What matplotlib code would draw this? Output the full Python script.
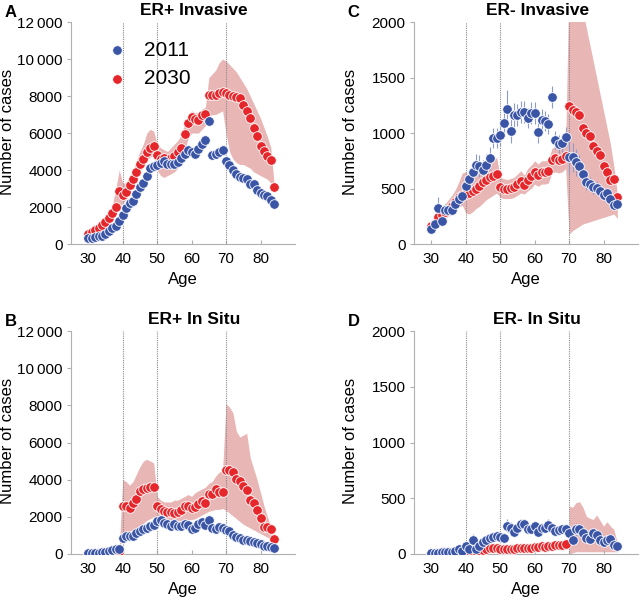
import numpy as np
import matplotlib
matplotlib.use("Agg")
import matplotlib.pyplot as plt

plt.rcParams["font.family"] = ["Liberation Sans", "DejaVu Sans"]

ages = np.arange(30, 85)
nan = np.nan

# ER+ invasive
a_2011 = [300, 330, 380, 420, 450, 550, 700, 850, 1000, 1250,
          1550, 1950, 2200, 2300, 2700, 3100, 3300, 3700, 4100, 4200,
          4250, 4400, 4500, 4300, 4350, 4300, 4450, 4650, 4850, 5100,
          4950, 4850, 5150, 5400, 5600, 6650, 4800, 4850, 4950, 5100,
          4500, 4250, 4000, 3800, 3650, 3550, 3500, 3250, 3250, 2900,
          2750, 2650, 2600, 2400, 2150]
a_2030 = [550, 650, 750, 850, 1050, 1200, 1400, 1650, 2000, 2850,
          2650, 2800, 3200, 3500, 3900, 4350, 4600, 4950, 5200, 5300,
          4800, 4600, 4650, 4500, 4650, 4750, 4950, 5200, 5950, 6550,
          6850, 6750, 6700, 6950, 7050, 8050, 8050, 8050, 8150, 8200,
          8150, 8050, 8000, 7950, 7900, 7500, 7200, 6800, 6250, 5850,
          5300, 5050, 4750, 4550, 3100]
a_lo = [400, 500, 600, 700, 850, 1000, 1150, 1350, 1650, 2000,
        2200, 2400, 2800, 3100, 3500, 3900, 4200, 4500, 4700, 4800,
        4000, 3700, 3600, 3700, 3800, 3900, 4100, 4400, 5100, 5700,
        6000, 6000, 6000, 6200, 6400, 6900, 7000, 7000, 7100, 7200,
        6000, 5000, 4600, 4400, 4300, 4300, 4200, 4100, 3900, 3800,
        3700, 3600, 3500, 3300, 3050]
a_hi = [700, 800, 900, 1050, 1250, 1450, 1700, 2100, 3000, 4000,
        3300, 3300, 3700, 4000, 4500, 5000, 5400, 6000, 6200, 6100,
        5400, 5200, 5100, 5000, 5200, 5400, 5600, 5900, 6500, 7000,
        7200, 7100, 7100, 7300, 7400, 9000, 9200, 9400, 9800, 10000,
        9900, 9700, 9500, 9300, 9000, 8700, 8400, 8000, 7600, 7200,
        6800, 6300, 5800, 5200, 3150]

# ER+ in situ
b_2011 = [50, 50, 60, 70, 100, 120, 150, 200, 260, 270,
          850, 980, 950, 990, 1130, 1220, 1340, 1400, 1490, 1580,
          1760, 1850, 1670, 1630, 1490, 1630, 1520, 1490, 1600, 1560,
          1340, 1420, 1630, 1700, 1560, 1850, 1400, 1340, 1450, 1400,
          1310, 1220, 1040, 910, 860, 770, 730, 680, 630, 590,
          540, 450, 410, 380, 320]
b_2030 = [20, 25, 30, 40, 50, 60, 70, 90, 110, 130,
          2600, 2560, 2470, 2740, 2960, 3370, 3490, 3550, 3580, 3580,
          2560, 2420, 2290, 2240, 2260, 2200, 2240, 2350, 2560, 2600,
          2470, 2530, 2710, 2830, 2740, 3240, 3240, 3490, 3320, 3330,
          4530, 4500, 4440, 4030, 3910, 3670, 3460, 2920, 2740, 2350,
          1940, 1430, 1430, 1340, 820]
b_lo = [0, 0, 0, 10, 20, 30, 40, 50, 60, 70,
        1100, 1150, 1200, 1300, 1400, 1550, 1650, 1800, 1900, 2000,
        1900, 1850, 1800, 1750, 1750, 1750, 1800, 1800, 1850, 1850,
        1850, 1900, 2000, 2100, 2200, 2300, 2350, 2400, 2400, 2450,
        2350, 2200, 2050, 1900, 1750, 1600, 1500, 1400, 1300, 1200,
        1100, 1000, 900, 800, 700]
b_hi = [40, 50, 60, 80, 100, 110, 120, 150, 180, 200,
        4000, 3900, 3700, 3900, 4300, 4700, 5000, 5100, 5000, 4900,
        3100, 2900, 2800, 2800, 2800, 2900, 2900, 3000, 3100, 3200,
        3100, 3300, 3400, 3500, 3600, 3800, 3900, 4200, 4400, 4500,
        8100, 7900, 7600, 6600, 6300, 6400, 6500, 5200, 4600, 4000,
        3300, 2600, 2000, 1500, 950]

# ER- invasive
c_2011 = [135, 183, 324, 210, 309, 309, 309, 357, 405, 429,
          519, 585, 645, 714, 700, 663, 714, 771, 954, 954,
          984, 1088, 1214, 1019, 1163, 1163, 1193, 1193, 1133, 1178,
          1178, 1007, 1118, 1112, 1079, 1328, 938, 902, 908, 962,
          783, 780, 735, 699, 630, 555, 540, 513, 504, 474,
          438, 459, 405, 348, 360]
c_err = [30, 40, 100, 40, 50, 50, 50, 60, 60, 70,
         80, 80, 90, 100, 100, 90, 100, 100, 90, 90,
         100, 110, 170, 110, 110, 100, 100, 100, 90, 100,
         100, 100, 100, 90, 90, 100, 80, 80, 80, 90,
         150, 130, 120, 100, 90, 70, 60, 60, 60, 50,
         50, 50, 50, 40, 40]
c_2030 = [160, 190, 240, 260, 290, 320, 340, 380, 420, 440,
          455, 459, 474, 495, 519, 555, 579, 600, 615, 633,
          510, 498, 498, 504, 513, 540, 564, 528, 579, 609,
          645, 618, 645, 645, 654, 759, 774, 753, 765, 795,
          1244, 1208, 1193, 1163, 1043, 1004, 969, 879, 834, 804,
          699, 645, 579, 585, 423]
c_lo = [120, 150, 190, 210, 230, 250, 270, 300, 330, 350,
        280, 270, 290, 320, 340, 370, 400, 420, 440, 460,
        420, 410, 410, 410, 420, 440, 460, 450, 480, 500,
        540, 520, 540, 540, 550, 640, 650, 640, 650, 680,
        90, 120, 140, 160, 180, 190, 200, 210, 220, 230,
        240, 250, 260, 270, 230]
c_hi = [180, 220, 280, 320, 360, 400, 440, 490, 560, 640,
        650, 600, 600, 620, 660, 700, 720, 740, 760, 780,
        600, 590, 580, 590, 600, 630, 660, 620, 680, 710,
        750, 720, 750, 750, 760, 860, 880, 860, 880, 900,
        2400, 2400, 2400, 2350, 2100, 1950, 1800, 1650, 1500, 1350,
        1200, 1050, 900, 700, 450]

# ER- in situ
d_2011 = [10, 8, 10, 15, 20, 15, 20, 25, 45, 25,
          75, 45, 130, 45, 75, 110, 130, 145, 155, 160,
          155, 145, 255, 235, 200, 235, 265, 265, 220, 225,
          250, 200, 230, 235, 260, 235, 205, 215, 225, 220,
          190, 130, 220, 225, 190, 145, 135, 190, 170, 130,
          105, 130, 135, 85, 75]
d_err = [10, 10, 10, 10, 10, 10, 15, 15, 20, 15,
         30, 25, 50, 25, 30, 40, 40, 40, 40, 40,
         40, 40, 60, 50, 50, 50, 50, 50, 40, 40,
         50, 40, 40, 40, 50, 40, 40, 40, 40, 40,
         40, 40, 60, 40, 40, 40, 30, 40, 30, 30,
         30, 30, 30, 20, 20]
d_2030 = [2, 2, 3, 3, 4, 5, 5, 6, 8, 10,
          15, 18, 20, 25, 30, 40, 45, 50, 50, 55,
          45, 45, 45, 45, 48, 50, 50, 50, 55, 55,
          60, 65, 68, 65, 70, 75, 78, 80, 85, 90,
          nan, nan, nan, nan, nan, nan, nan, nan, nan, nan,
          nan, nan, nan, nan, nan]
d_lo = [nan] * 40 + [0, 10, 20, 20, 20, 20, 20, 20, 20, 20,
                     20, 20, 20, 20, 20]
d_hi = [nan] * 40 + [430, 420, 460, 470, 420, 340, 320, 310, 350, 300,
                     250, 290, 250, 220, 100]

BLUE = "#3a55a5"
RED = "#e5262b"
BAND = "#e9b6b6"

panels = [
    ("A", "ER+ Invasive", [0.1109, 0.596, 0.35, 0.3675], a_2011, None, a_2030, a_lo, a_hi, 12000, 2000),
    ("C", "ER- Invasive", [0.6469, 0.596, 0.35, 0.3675], c_2011, c_err, c_2030, c_lo, c_hi, 2000, 500),
    ("B", "ER+ In Situ", [0.1109, 0.0828, 0.35, 0.369], b_2011, None, b_2030, b_lo, b_hi, 12000, 2000),
    ("D", "ER- In Situ", [0.6469, 0.0828, 0.35, 0.369], d_2011, d_err, d_2030, d_lo, d_hi, 2000, 500),
]


def fmt(v):
    v = int(v)
    if v >= 10000:
        return f"{v // 1000}\u2009{v % 1000:03d}"
    return str(v)


fig = plt.figure(figsize=(6.4, 6.04), dpi=100)

for letter, title, rect, y11, err, y30, lo, hi, ymax, step in panels:
    ax = fig.add_axes(rect)
    ax.fill_between(ages, lo, hi, color=BAND, lw=0, zorder=1)
    for x in (40, 50, 70):
        ax.axvline(x, color="#8a8a8a", ls=(0, (1, 1)), lw=0.8, zorder=2)
    if err is not None:
        ax.errorbar(ages, y11, yerr=err, fmt="none", ecolor="#8e9ac8",
                    elinewidth=0.8, zorder=3)
    ax.scatter(ages, y30, s=48, c=RED, edgecolors="white", linewidths=0.6,
               zorder=4, label="2030")
    ax.scatter(ages, y11, s=48, c=BLUE, edgecolors="white", linewidths=0.6,
               zorder=5, label="2011")

    ax.set_xlim(25, 90)
    ax.set_ylim(0, ymax)
    ax.set_xticks([30, 40, 50, 60, 70, 80])
    yt = np.arange(0, ymax + 1, step)
    ax.set_yticks(yt)
    ax.set_yticklabels([fmt(v) for v in yt])
    for s in ("top", "right"):
        ax.spines[s].set_visible(False)
    for s in ("left", "bottom"):
        ax.spines[s].set_color("#b0b0b0")
        ax.spines[s].set_linewidth(0.8)
    ax.tick_params(axis="x", direction="in", length=3, color="#b0b0b0",
                   labelsize=11, pad=6)
    ax.tick_params(axis="y", direction="out", length=3, color="#b0b0b0",
                   labelsize=11, pad=3)
    ax.set_xlabel("Age", fontsize=12, labelpad=4)
    ax.set_ylabel("Number of cases", fontsize=12)
    ax.yaxis.set_label_coords(-0.25, 0.505)
    ax.set_title(title, fontsize=12.5, fontweight="bold", x=0.55, pad=5)

    bb = ax.get_position()
    fig.text(bb.x0 - 0.104, bb.y1 + 0.003, letter, fontsize=12,
             fontweight="bold", ha="left", va="bottom")

    if letter == "A":
        h, l = ax.get_legend_handles_labels()
        ax.legend(h[::-1], l[::-1], loc="upper left",
                  bbox_to_anchor=(0.16, 0.915), frameon=False, fontsize=15,
                  markerscale=1.0, handlelength=1.0, handletextpad=0.8,
                  labelspacing=0.45, borderpad=0, borderaxespad=0)

fig.savefig("out.png", dpi=100)
